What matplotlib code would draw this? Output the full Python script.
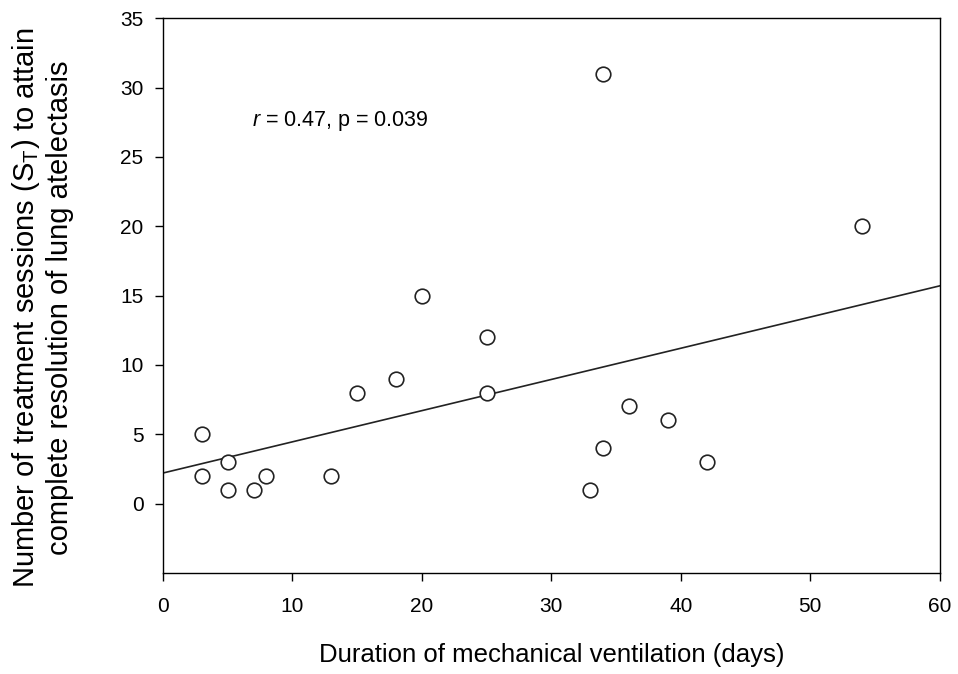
import numpy as np
import matplotlib.pyplot as plt

plt.rcParams['font.family'] = ['Liberation Sans', 'DejaVu Sans']
plt.rcParams['mathtext.fontset'] = 'custom'
plt.rcParams['mathtext.rm'] = 'Liberation Sans'
plt.rcParams['mathtext.it'] = 'Liberation Sans:italic'

# duration of mechanical ventilation (days) vs sessions to resolution
days = [3, 3, 5, 5, 7, 8, 13, 15, 18, 20, 25, 25, 33, 34, 34, 36, 39, 42, 54]
sessions = [5, 2, 3, 1, 1, 2, 2, 8, 9, 15, 12, 8, 1, 31, 4, 7, 6, 3, 20]
# regression line as printed
icpt = 2.2
slope = 0.225

fig = plt.figure(figsize=(9.58, 6.74), dpi=100)
ax = fig.add_axes([0.170, 0.150, 0.811, 0.823])

xl = np.array([0, 60])
ax.plot(xl, icpt + slope * xl, color='#222222', lw=1.2)
ax.plot(days, sessions, 'o', mfc='white', mec='#222222', ms=10.5, mew=1.2)

ax.text(6.9, 27.6, '$\\it{r}$ = 0.47, p = 0.039', fontsize=15.5, va='center')

ax.set_xlim(0, 60)
ax.set_ylim(-5, 35)
ax.set_xticks(range(0, 61, 10))
ax.set_yticks(range(0, 36, 5))
ax.tick_params(direction='out', length=6, labelsize=15, width=1)
ax.tick_params(axis='x', pad=11)
ax.tick_params(axis='y', pad=8)
for s in ax.spines.values():
    s.set_linewidth(1)

fig.text(552 / 958, 0.028, 'Duration of mechanical ventilation (days)',
         fontsize=18.5, ha='center', va='center')
fig.text(42 / 958, 0.544,
         'Number of treatment sessions (S$_\\mathregular{T}$) to attain\ncomplete resolution of lung atelectasis',
         fontsize=21, rotation=90, ha='center', va='center', multialignment='center',
         linespacing=1.15)

fig.savefig('out.png', dpi=100)
